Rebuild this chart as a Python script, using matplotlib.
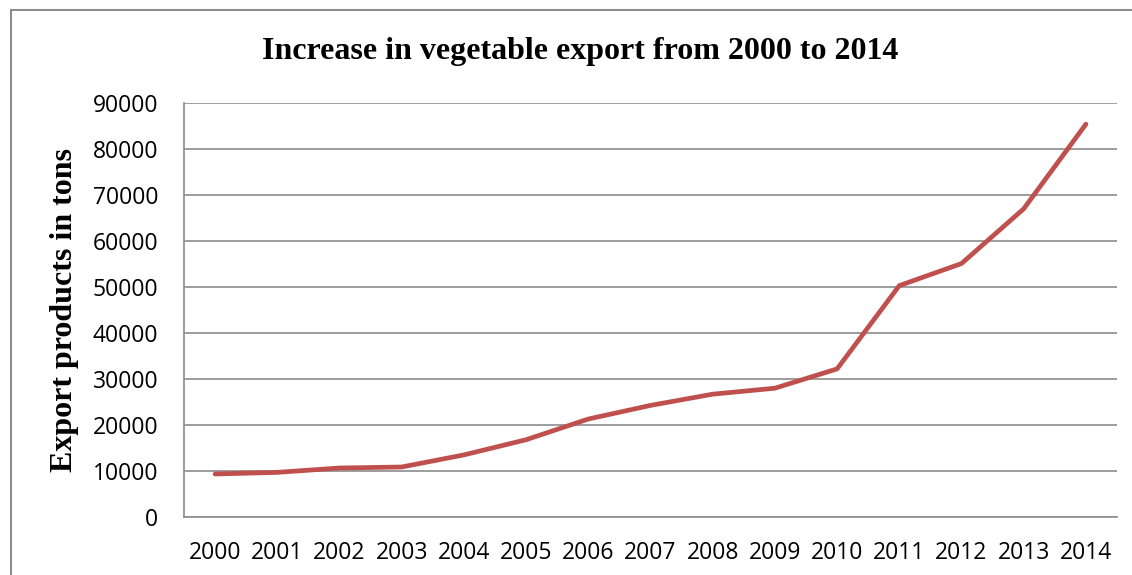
import matplotlib
matplotlib.use("Agg")
import matplotlib.pyplot as plt
from matplotlib.patches import Rectangle

### Data
years = ["2000", "2001", "2002", "2003", "2004", "2005", "2006", "2007",
         "2008", "2009", "2010", "2011", "2012", "2013", "2014"]
export_tons = [9350, 9700, 10650, 10870, 13500, 16800, 21300, 24260,
               26700, 28000, 32200, 50300, 55100, 67000, 85400]
y_ticks = [0, 10000, 20000, 30000, 40000, 50000, 60000, 70000, 80000, 90000]

W, H = 1132, 575
fig = plt.figure(figsize=(W / 100, H / 100), dpi=100)

### outer chart frame
fig.patches.append(Rectangle((11 / W, -0.05), 1.2, 1 - 10 / H + 0.05,
                             transform=fig.transFigure, fill=False,
                             edgecolor="#8c8c8c", linewidth=1.5))

ax = fig.add_axes([184 / W, 1 - 517 / H, (1117 - 184) / W, (517 - 103) / H])
x = list(range(len(years)))
ax.plot(x, export_tons, color="#C0504D", linewidth=3.4,
        solid_capstyle="round", solid_joinstyle="round", zorder=3)

ax.set_xlim(-0.5, len(years) - 0.5)
ax.set_ylim(0, 90000)
ax.set_yticks(y_ticks)
ax.set_yticklabels([str(v) for v in y_ticks])
ax.set_xticks(x)
ax.set_xticklabels(years)
ax.yaxis.grid(True, color="#8c8c8c", linewidth=1.2)
ax.set_axisbelow(True)
for s in ["top", "right"]:
    ax.spines[s].set_visible(False)
for s in ["left", "bottom"]:
    ax.spines[s].set_color("#8c8c8c")
    ax.spines[s].set_linewidth(1.2)
ax.tick_params(length=0, labelsize=16.5)
ax.tick_params(axis="y", pad=18.5)
ax.tick_params(axis="x", pad=17)
for lab in ax.get_xticklabels() + ax.get_yticklabels():
    lab.set_fontfamily("Open Sans")

fig.text(580 / W, 1 - 51 / H, "Increase in vegetable export from 2000 to 2014",
         ha="center", va="center", fontsize=23, fontweight="bold",
         fontfamily="Liberation Serif")
fig.text(65 / W, 1 - 310 / H, "Export products in tons", rotation=90,
         ha="center", va="center", fontsize=23, fontweight="bold",
         fontfamily="Liberation Serif")

fig.savefig("out.png", dpi=100)
